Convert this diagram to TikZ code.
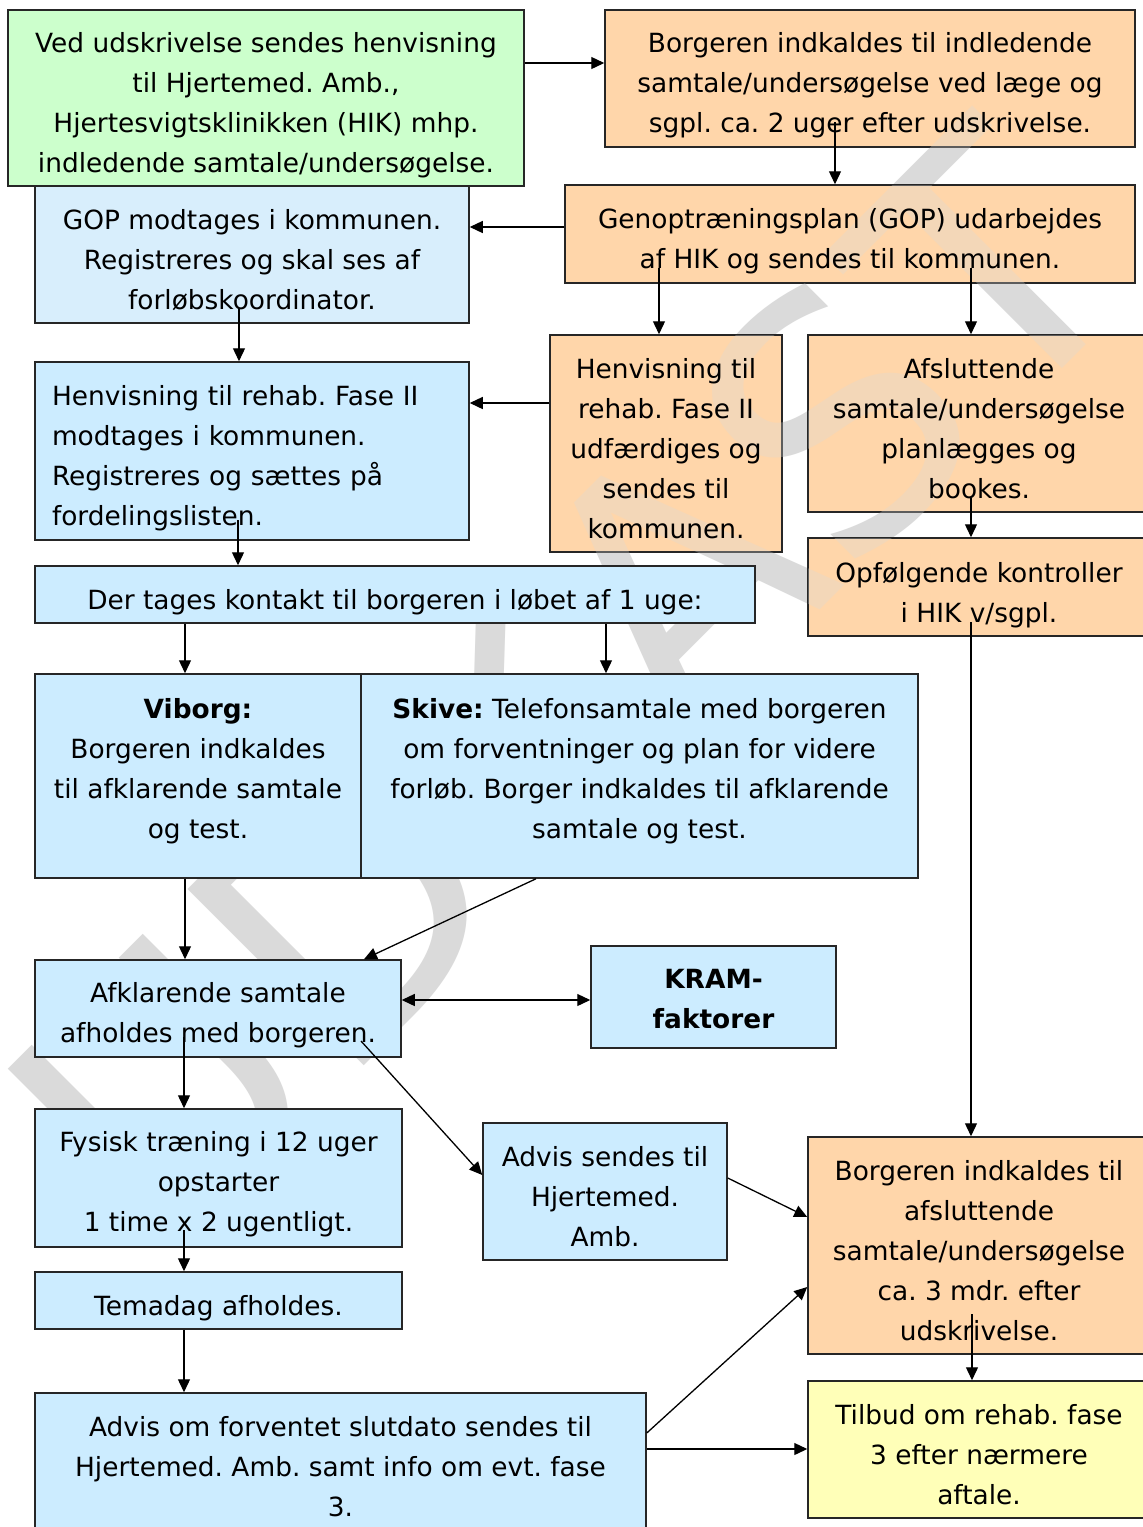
\documentclass[tikz,border=0pt]{standalone}
\usepackage{fontspec}
\setmainfont{DejaVu Sans}
\usetikzlibrary{arrows.meta}
\frenchspacing
\definecolor{cgreen}{HTML}{CCFFCC}
\definecolor{corange}{HTML}{FFD6AA}
\definecolor{cblue}{HTML}{CCECFF}
\definecolor{cbluelt}{HTML}{D8EEFC}
\definecolor{cyellow}{HTML}{FFFFB8}
\definecolor{cwm}{HTML}{DADADA}
\pgfdeclarelayer{bg}
\pgfdeclarelayer{ov}
\pgfsetlayers{bg,ov,main}
\newcommand\fs{\fontsize{13.2pt}{20pt}\selectfont}
% name, x1, y1, x2, y2, box style, text style, text shift (px), text
\newcommand\mkbox[9]{%
  \begin{pgfonlayer}{bg}
  \node[box,#6,minimum width={0.5pt*(#4-#2)},minimum height={0.5pt*(#5-#3)}] (#1) at ({(#2+#4)/2},{(#3+#5)/2}) {};
  \end{pgfonlayer}
  \node[txt,#7] (#1-t) at ({(#2+#4)/2},{(#3+#5)/2+#8}) {#9};}
\tikzset{
  box/.style={draw=black!85, line width=0.75pt, inner sep=0pt},
  txt/.style={inner sep=0pt, align=center, font=\fs, text=black},
  arr/.style={line width=0.65pt, -{Triangle[length=6.5pt,width=6pt]}},
  darr/.style={line width=0.65pt, {Triangle[length=6.5pt,width=6pt]}-{Triangle[length=6.5pt,width=6pt]}},
  wmark/.style={anchor=base west, rotate=45, inner sep=0pt, text=cwm, font=\fontsize{171pt}{171pt}\selectfont}
}
\begin{document}
\begin{tikzpicture}[x=0.5pt,y=-0.5pt]
\useasboundingbox (0,0) rectangle (1143,1527);
\begin{pgfonlayer}{bg}
\fill[white] (0,0) rectangle (1143,1527);
\node[wmark] (wm) at (163,1267) {UDKAST};
\end{pgfonlayer}

\mkbox{green}{8}{10}{524}{186}{fill=cgreen}{}{7}{Ved udskrivelse sendes henvisning\\til Hjertemed. Amb.,\\Hjertesvigtsklinikken (HIK) mhp.\\indledende samtale/undersøgelse.}
\mkbox{borgA}{605}{10}{1135}{147}{fill=corange}{}{7}{Borgeren indkaldes til indledende\\samtale/undersøgelse ved læge og\\sgpl. ca. 2 uger efter udskrivelse.}
\mkbox{gop}{35}{186}{469}{323}{fill=cbluelt}{}{6}{GOP modtages i kommunen.\\Registreres og skal ses af\\forløbskoordinator.}
\mkbox{genop}{565}{185}{1135}{283}{fill=corange}{}{7}{Genoptræningsplan (GOP) udarbejdes\\af HIK og sendes til kommunen.}
\mkbox{henvK}{35}{362}{469}{540}{fill=cblue}{align=left,text width=200pt}{7}{Henvisning til rehab. Fase II\\modtages i kommunen.\\Registreres og sættes på\\fordelingslisten.}
\mkbox{henvH}{550}{335}{782}{552}{fill=corange}{}{5}{Henvisning til\\rehab. Fase II\\udfærdiges og\\sendes til\\kommunen.}
\mkbox{afslA}{808}{335}{1150}{512}{fill=corange}{}{5}{Afsluttende\\samtale/undersøgelse\\planlægges og\\bookes.}
\mkbox{opf}{808}{538}{1150}{636}{fill=corange}{}{8}{Opfølgende kontroller\\i HIK v/sgpl.}
\mkbox{kontakt}{35}{566}{755}{623}{fill=cblue}{}{8}{Der tages kontakt til borgeren i løbet af 1 uge:}
\mkbox{viborg}{35}{674}{361}{878}{fill=cblue}{}{-5}{\textbf{Viborg:}\\Borgeren indkaldes\\til afklarende samtale\\og test.}
\mkbox{skive}{361}{674}{918}{878}{fill=cblue}{}{-5}{\textbf{Skive:} Telefonsamtale med borgeren\\om forventninger og plan for videre\\forløb. Borger indkaldes til afklarende\\samtale og test.}
\mkbox{afkl}{35}{960}{401}{1057}{fill=cblue}{}{7}{Afklarende samtale\\afholdes med borgeren.}
\mkbox{kram}{591}{946}{836}{1048}{fill=cblue}{font=\fs\bfseries}{2}{KRAM-\\faktorer}
\mkbox{fysisk}{35}{1109}{402}{1247}{fill=cblue}{}{6}{Fysisk træning i 12 uger\\opstarter\\1 time x 2 ugentligt.}
\mkbox{advisA}{483}{1123}{727}{1260}{fill=cblue}{}{5}{Advis sendes til\\Hjertemed.\\Amb.}
\mkbox{tema}{35}{1272}{402}{1329}{fill=cblue}{}{8}{Temadag afholdes.}
\mkbox{advisB}{35}{1393}{646}{1541}{fill=cblue}{}{0}{Advis om forventet slutdato sendes til\\Hjertemed. Amb. samt info om evt. fase\\3.}
\mkbox{borgB}{808}{1137}{1150}{1354}{fill=corange}{}{5}{Borgeren indkaldes til\\afsluttende\\samtale/undersøgelse\\ca. 3 mdr. efter\\udskrivelse.}
\mkbox{tilbud}{808}{1381}{1150}{1518}{fill=cyellow}{}{5}{Tilbud om rehab. fase\\3 efter nærmere\\aftale.}

\begin{pgfonlayer}{ov}
\begin{scope}
\clip (605,10) rectangle (1135,147) (565,185) rectangle (1135,283)
      (550,335) rectangle (782,552) (808,335) rectangle (1150,512)
      (808,538) rectangle (1150,636) (808,1137) rectangle (1150,1354);
\node[wmark, opacity=0.3] (wmtop) at (163,1267) {UDKAST};
\end{scope}
\end{pgfonlayer}

\coordinate (p1) at (0,63);
\draw[arr] (green.east |- p1) -- (borgA.west |- p1);
\coordinate (p2) at (835,122);
\draw[arr] (p2) -- (p2 |- genop.north);
\coordinate (p3) at (0,227);
\draw[arr] (genop.west |- p3) -- (gop.east |- p3);
\coordinate (p4) at (239,308);
\draw[arr] (p4) -- (p4 |- henvK.north);
\coordinate (p5) at (659,268);
\draw[arr] (p5) -- (p5 |- henvH.north);
\coordinate (p6) at (971,268);
\draw[arr] (p6) -- (p6 |- afslA.north);
\coordinate (p7) at (0,403);
\draw[arr] (henvH.west |- p7) -- (henvK.east |- p7);
\coordinate (p8) at (971,498);
\draw[arr] (p8) -- (p8 |- opf.north);
\coordinate (p9) at (971,622);
\draw[arr] (p9) -- (p9 |- borgB.north);
\coordinate (p10) at (238,520);
\draw[arr] (p10) -- (p10 |- kontakt.north);
\coordinate (p11) at (185,0);
\draw[arr] (kontakt.south -| p11) -- (viborg.north -| p11);
\coordinate (p12) at (606,0);
\draw[arr] (kontakt.south -| p12) -- (skive.north -| p12);
\draw[arr] (viborg.south -| p11) -- (afkl.north -| p11);
\coordinate (p13) at (536,0);
\coordinate (p14) at (364,0);
\draw[arr] (skive.south -| p13) -- (afkl.north -| p14);
\coordinate (p15) at (0,1000);
\draw[darr] (afkl.east |- p15) -- (kram.west |- p15);
\coordinate (p16) at (184,1037);
\draw[arr] (p16) -- (p16 |- fysisk.north);
\coordinate (p17) at (361,1041);
\coordinate (p18) at (0,1175);
\draw[arr] (p17) -- (advisA.west |- p18);
\coordinate (p19) at (184,1230);
\draw[arr] (p19) -- (p19 |- tema.north);
\draw[arr] (tema.south -| p19) -- (advisB.north -| p19);
\coordinate (p20) at (0,1178);
\coordinate (p21) at (0,1217);
\draw[arr] (advisA.east |- p20) -- (borgB.west |- p21);
\coordinate (p22) at (0,1433);
\coordinate (p23) at (0,1287);
\draw[arr] (advisB.east |- p22) -- (borgB.west |- p23);
\coordinate (p24) at (0,1449);
\draw[arr] (advisB.east |- p24) -- (tilbud.west |- p24);
\coordinate (p25) at (972,1314);
\draw[arr] (p25) -- (p25 |- tilbud.north);
\end{tikzpicture}
\end{document}
